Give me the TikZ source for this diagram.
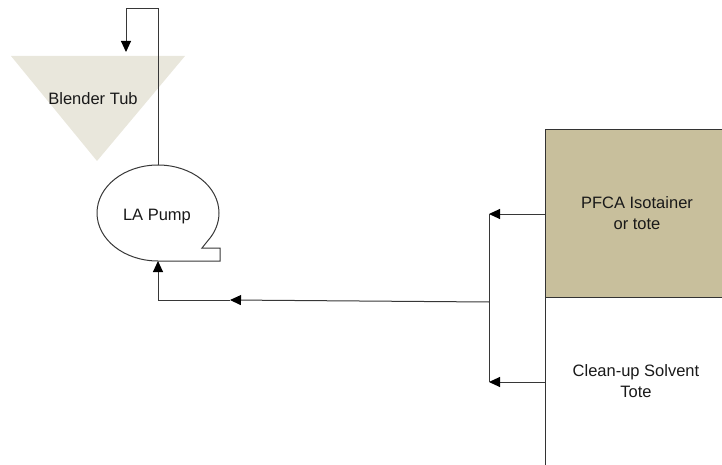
\documentclass[tikz,border=0pt]{standalone}
\usepackage{fontspec}
\setmainfont{Liberation Sans}
\usetikzlibrary{arrows.meta}
\definecolor{tubfill}{RGB}{233,231,220}
\definecolor{totefill}{RGB}{200,191,156}
\definecolor{linec}{RGB}{55,55,55}
\tikzset{
  pipe/.style={draw=linec, line width=1pt},
  flow/.style={pipe, -{Triangle[length=11pt,width=10pt,color=black,fill=black]}},
  lbl/.style={font=\fontsize{16.5}{20.5}\selectfont, text=black!90, align=center, inner sep=0pt},
  tote/.style={draw=black!80, line width=1pt}
}
\begin{document}
\begin{tikzpicture}[x=1pt,y=1pt]
\useasboundingbox (0,0) rectangle (722,464);
\clip (0,0) rectangle (722,464);
% Blender tub
\fill[tubfill] (11,408) -- (185,408) -- (97,303) -- cycle;
\node[lbl] (tub) at (93,365) {Blender Tub};
% Pump
\draw[pipe] (158,203) arc[start angle=-90, end angle=-395, x radius=61, y radius=48]
  -- (202,216) -- (220,216) -- (220,203) -- cycle;
\node[lbl] (pump) at (157,247) {LA Pump};
\coordinate (pumptop) at (158,299);
\coordinate (pumpin) at (158,203);
% Totes
\filldraw[tote, fill=totefill] (545,167) rectangle (740,334);
\draw[tote] (545,-10) -- (545,167);
\node[lbl] (pfca) at (637,251) {PFCA Isotainer\\or tote};
\node[lbl] (solv) at (636,83) {Clean-up Solvent\\Tote};
% Connectors
\coordinate (pfcaout) at (545,250);
\coordinate (solvout) at (545,82);
\coordinate (hdrtop) at (489,250);
\coordinate (hdrbot) at (489,82);
\coordinate (hdrmid) at (489,162);
\coordinate (midarrow) at (230,164);
\coordinate (corner) at (158,164);
\coordinate (pipetop) at (158,455);
\coordinate (pipeleft) at (126,455);
\coordinate (tubin) at (126,412);
\draw[flow] (pfcaout) -- (hdrtop);
\draw[flow] (solvout) -- (hdrbot);
\draw[pipe] (hdrtop) -- (hdrbot);
\draw[flow] (hdrmid) -- (midarrow);
\draw[flow] (midarrow) -- (corner) -- (pumpin);
\draw[flow] (pumptop) -- (pipetop) -- (pipeleft) -- (tubin);
\end{tikzpicture}
\end{document}
